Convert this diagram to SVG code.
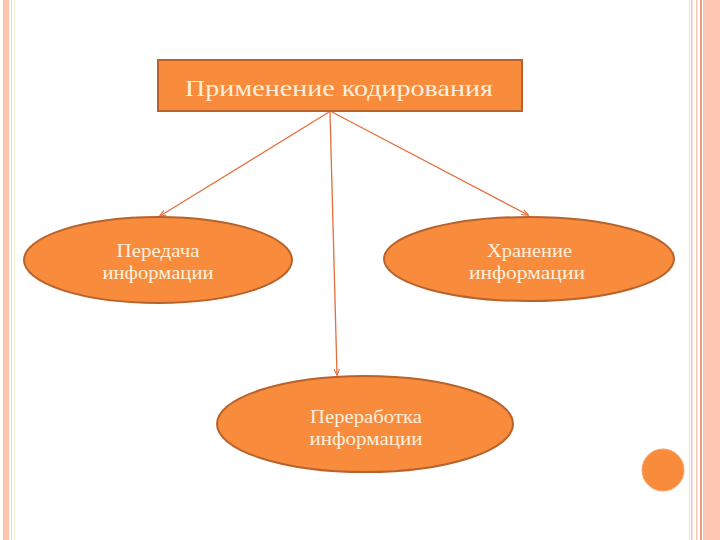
<svg xmlns="http://www.w3.org/2000/svg" width="720" height="540" viewBox="0 0 720 540">
<style>
.node{fill:#f98b3c;stroke:#b8622c;stroke-width:2}
.lbl{font-family:"Liberation Serif","DejaVu Serif",serif;fill:#fbf0dc;text-anchor:middle}
.con{stroke:#e46e3c;stroke-width:1.3;fill:none;marker-end:url(#ah)}
</style>
<defs>
<marker id="ah" viewBox="0 0 10 10" refX="9" refY="5" markerWidth="7" markerHeight="7" orient="auto" markerUnits="userSpaceOnUse">
<path d="M0,1 L10,5 L0,9" fill="none" stroke="#e46e3c" stroke-width="1.5"/>
</marker>
</defs>
<rect width="720" height="540" fill="#ffffff"/>
<g id="frame">
<rect x="3" y="0" width="6" height="540" fill="#ffc4ae"/>
<rect x="11" y="0" width="1" height="540" fill="#f6d8cc"/>
<rect x="14" y="0" width="1" height="540" fill="#f4f0d8"/>
<rect x="689" y="0" width="1" height="540" fill="#f6dccf"/>
<rect x="691" y="0" width="1.5" height="540" fill="#e9c6b6"/>
<rect x="696" y="0" width="1.5" height="540" fill="#f3c9b6"/>
<rect x="700" y="0" width="2" height="540" fill="#ee9c7c"/>
<rect x="703" y="0" width="17" height="540" fill="#ffc7b3"/>
</g>
<g id="connectors">
<line class="con" x1="329" y1="112" x2="160" y2="216"/>
<line class="con" x1="330" y1="112" x2="337" y2="375"/>
<line class="con" x1="332" y1="112" x2="528" y2="215"/>
</g>
<g id="root">
<rect class="node" x="158" y="60" width="364" height="51"/>
<text class="lbl" x="339" y="96" font-size="24" textLength="308" lengthAdjust="spacingAndGlyphs">Применение кодирования</text>
</g>
<g id="transfer">
<ellipse class="node" cx="158" cy="260" rx="134" ry="43"/>
<text class="lbl" x="158" y="257" font-size="18" textLength="83" lengthAdjust="spacingAndGlyphs">Передача</text>
<text class="lbl" x="158" y="279" font-size="18" textLength="111" lengthAdjust="spacingAndGlyphs">информации</text>
</g>
<g id="storage">
<ellipse class="node" cx="529" cy="259" rx="145" ry="42"/>
<text class="lbl" x="529.5" y="257" font-size="18" textLength="85" lengthAdjust="spacingAndGlyphs">Хранение</text>
<text class="lbl" x="527" y="279" font-size="18" textLength="116" lengthAdjust="spacingAndGlyphs">информации</text>
</g>
<g id="processing">
<ellipse class="node" cx="365" cy="424" rx="148" ry="48"/>
<text class="lbl" x="366" y="423" font-size="18" textLength="112" lengthAdjust="spacingAndGlyphs">Переработка</text>
<text class="lbl" x="366" y="445" font-size="18" textLength="113" lengthAdjust="spacingAndGlyphs">информации</text>
</g>
<g id="dot">
<circle cx="663" cy="470" r="21" fill="#f98b3c" stroke="#f4a36a" stroke-width="1"/>
</g>
</svg>
